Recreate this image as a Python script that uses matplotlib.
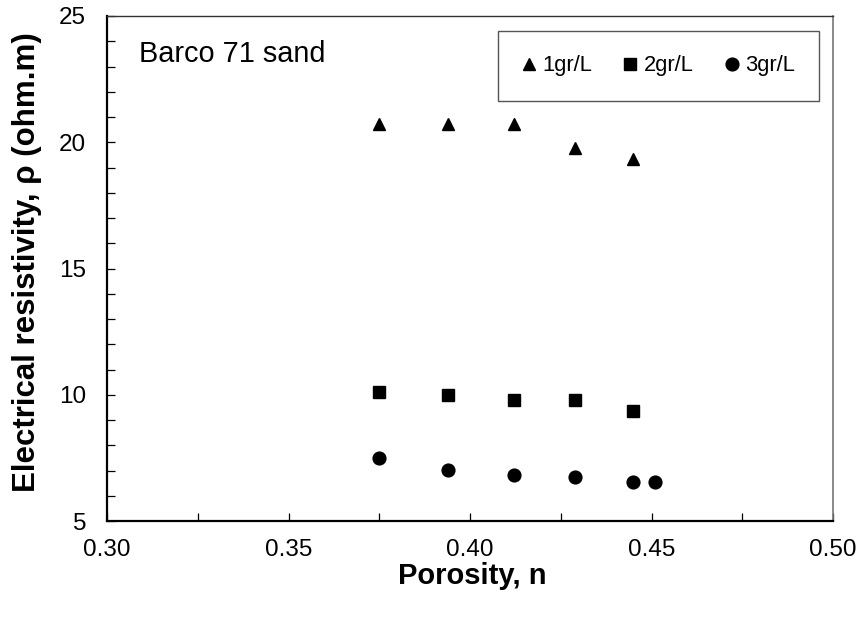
import matplotlib
matplotlib.use("Agg")
import matplotlib.pyplot as plt
from matplotlib.ticker import MultipleLocator, FormatStrFormatter

plt.rcParams['font.family'] = ['Liberation Sans', 'DejaVu Sans']

# Data
porosity_1 = [0.375, 0.394, 0.412, 0.429, 0.445]
rho_1 = [20.72, 20.72, 20.72, 19.77, 19.33]

porosity_2 = [0.375, 0.394, 0.412, 0.429, 0.445]
rho_2 = [10.11, 10.0, 9.78, 9.78, 9.36]

porosity_3 = [0.375, 0.394, 0.412, 0.429, 0.445, 0.451]
rho_3 = [7.5, 7.03, 6.84, 6.74, 6.54, 6.54]

labels = ["1gr/L", "2gr/L", "3gr/L"]

fig = plt.figure(figsize=(8.6, 6.17), dpi=100)
W, H = 860, 617
left, right, top, bottom = 107, 833, 16, 521
ax = fig.add_axes([left / W, 1 - bottom / H, (right - left) / W, (bottom - top) / H])

ms = 8.8
ax.plot(porosity_1, rho_1, linestyle='none', marker='^', color='black', markersize=ms, label=labels[0])
ax.plot(porosity_2, rho_2, linestyle='none', marker='s', color='black', markersize=ms, label=labels[1])
ax.plot(porosity_3, rho_3, linestyle='none', marker='o', color='black', markersize=ms + 0.4, label=labels[2])

ax.set_xlim(0.30, 0.50)
ax.set_ylim(5, 25)
ax.xaxis.set_major_locator(MultipleLocator(0.05))
ax.xaxis.set_minor_locator(MultipleLocator(0.025))
ax.xaxis.set_major_formatter(FormatStrFormatter('%.2f'))
ax.yaxis.set_major_locator(MultipleLocator(5))
ax.yaxis.set_minor_locator(MultipleLocator(1))

ax.tick_params(axis='both', which='both', direction='in', length=6, width=0.9, color='black',
               top=False, right=False)
ax.tick_params(axis='x', which='major', labelsize=17.5, pad=13)
ax.tick_params(axis='y', which='major', labelsize=17.5, pad=15)

for s in ['left', 'bottom']:
    ax.spines[s].set_linewidth(1.6)
    ax.spines[s].set_color('black')
ax.spines['top'].set_linewidth(1.0)
ax.spines['top'].set_color('#333333')
ax.spines['right'].set_linewidth(1.2)
ax.spines['right'].set_color('#777777')

fig.text(472 / W, 1 - 576 / H, "Porosity, n", fontsize=21, fontweight='bold',
         ha='center', va='center')
fig.text(27 / W, 1 - 262 / H, "Electrical resistivity, ρ (ohm.m)", fontsize=22.5,
         fontweight='bold', rotation=90, ha='center', va='center')

ax.text(139 / W, 1 - 54 / H, "Barco 71 sand", fontsize=20.8, ha='left', va='center',
        transform=fig.transFigure)

leg = ax.legend(loc='center', bbox_to_anchor=((658.5 - left) / (right - left), (bottom - 66) / (bottom - top)),
                ncol=3, fontsize=15.8, frameon=True, fancybox=False, shadow=False,
                handlelength=0.6, handletextpad=0.3, columnspacing=1.45, borderpad=1.1,
                markerscale=1.0)
leg.get_frame().set_edgecolor('#555555')
leg.get_frame().set_linewidth(1.0)
leg.get_frame().set_alpha(1.0)

fig.savefig("out.png", dpi=100)
